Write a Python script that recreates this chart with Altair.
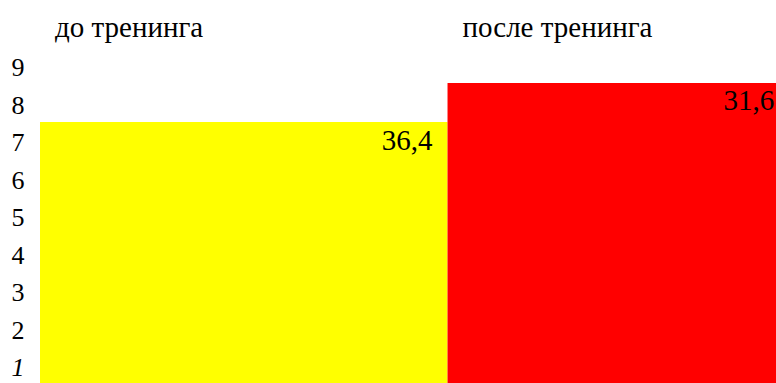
import altair as alt
import pandas as pd

# Training results: before / after
stages = ["до тренинга", "после тренинга"]
scores = [36.4, 31.6]          # shown values, drive bar widths
levels = [7.56, 8.6]           # bar heights on the 1–9 scale
score_labels = ["36,4", "31,6"]
colors = ["#FFFF00", "#FF0000"]
y_ticks = [1, 2, 3, 4, 5, 6, 7, 8, 9]

df = pd.DataFrame({
    "stage": stages,
    "score": scores,
    "level": levels,
    "label": score_labels,
    "color": colors,
})
df["end"] = df["score"].cumsum()
df["start"] = df["end"] - df["score"]

W, H = 736, 338
FONT = "Liberation Serif"

x_scale = alt.Scale(domain=[0, 65.74], nice=False, zero=False)
y_scale = alt.Scale(domain=[0.6, 9.613], nice=False, zero=False)

y_axis = alt.Axis(
    values=y_ticks,
    domain=False,
    ticks=False,
    grid=False,
    title=None,
    labelFont=FONT,
    labelFontSize=26,
    labelColor="black",
    labelPadding=16,
    labelFontStyle={
        "condition": {"test": "datum.value == 1", "value": "italic"},
        "value": "normal",
    },
)

base = alt.Chart(df)

bars = base.mark_bar(clip=True).encode(
    x=alt.X("start:Q", scale=x_scale, axis=None),
    x2="end:Q",
    y=alt.Y("level:Q", scale=y_scale, axis=y_axis),
    y2=alt.datum(0),
    color=alt.Color("color:N", scale=None),
)

stage_text = base.mark_text(
    align="left", baseline="alphabetic", dx=15, font=FONT, fontSize=29, color="black"
).encode(
    x=alt.X("start:Q", scale=x_scale, axis=None),
    y=alt.value(-8),
    text="stage:N",
)

label_before = base.transform_filter(alt.datum.stage == stages[0]).mark_text(
    align="right", baseline="alphabetic", dx=-15, dy=28, font=FONT, fontSize=29, color="black"
).encode(
    x=alt.X("end:Q", scale=x_scale, axis=None),
    y=alt.Y("level:Q", scale=y_scale, axis=y_axis),
    text="label:N",
)

label_after = base.transform_filter(alt.datum.stage == stages[1]).mark_text(
    align="right", baseline="alphabetic", dx=-27, dy=27, font=FONT, fontSize=29, color="black"
).encode(
    x=alt.X("end:Q", scale=x_scale, axis=None),
    y=alt.Y("level:Q", scale=y_scale, axis=y_axis),
    text="label:N",
)

chart = (
    alt.layer(bars, stage_text, label_before, label_after)
    .properties(
        width=W,
        height=H,
        background="white",
        autosize=alt.AutoSizeParams(type="none"),
        padding={"left": 40, "top": 45, "right": 0, "bottom": 0},
    )
    .configure_view(stroke=None, strokeWidth=0)
    .configure_axis(grid=False, domain=False)
)

chart.save("out.html", embed_options={"renderer": "svg", "actions": False})
